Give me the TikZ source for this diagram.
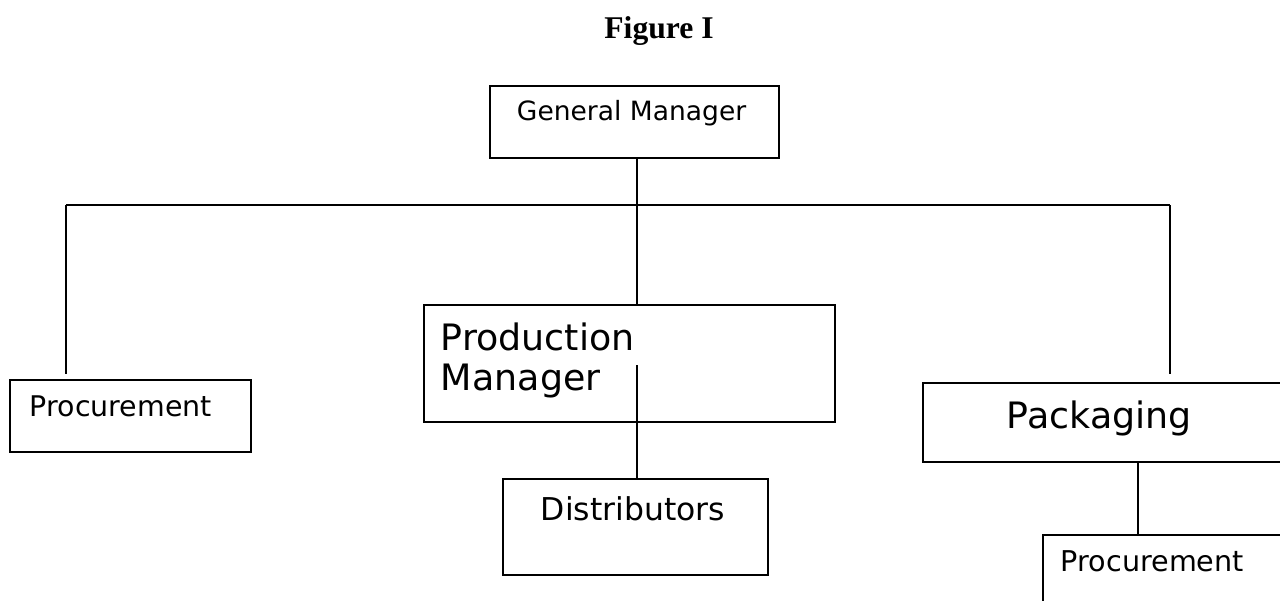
\documentclass[tikz,border=0pt]{standalone}
\usepackage{fontspec}
\setmainfont{DejaVu Sans}
\newfontfamily\titlefont{Liberation Serif}
\usepackage{tikz}
\usetikzlibrary{positioning}

\begin{document}
\begin{tikzpicture}[x=0.02cm, y=-0.02cm, line width=1.1pt,
  box/.style={draw, line width=1.1pt, inner sep=0pt, anchor=north west},
  lbl/.style={inner sep=0pt, anchor=base west, align=left}]
\useasboundingbox (0,0) rectangle (1280,601);
\clip (0,0) rectangle (1280,601);
\node[anchor=base, font=\titlefont\bfseries\fontsize{18}{20}\selectfont] (title) at (659,39) {Figure I};
% boxes
\node[box, minimum width=5.78cm, minimum height=1.44cm] (gm) at (489,85) {};
\node[box, minimum width=4.82cm, minimum height=1.44cm] (procl) at (9,379) {};
\node[box, minimum width=8.22cm, minimum height=2.34cm] (prod) at (423,304) {};
\node[box, minimum width=5.30cm, minimum height=1.92cm] (dist) at (502,478) {};
\node[box, minimum width=7.46cm, minimum height=1.58cm] (pack) at (922,382) {};
\node[box, minimum width=5.16cm, minimum height=1.72cm] (procr) at (1042,534) {};
% texts
\node[lbl, font=\fontsize{15.1}{18}\selectfont] (gmtext) at (516,121) {General Manager};
\node[lbl, font=\fontsize{16.2}{19}\selectfont] (procltext) at (29,416) {Procurement};
\node[lbl, anchor=north west, font=\fontsize{20.7}{22.7}\selectfont] (prodtext) at (440,322) {Production\\Manager};
\node[lbl, font=\fontsize{17.9}{21}\selectfont] (disttext) at (540,520) {Distributors};
\node[lbl, font=\fontsize{20.7}{24}\selectfont] (packtext) at (1006,428) {Packaging};
\node[lbl, font=\fontsize{16.3}{19}\selectfont] (procrtext) at (1060,571) {Procurement};
% connectors
\coordinate (jl) at (66,205);
\coordinate (jm) at (637,205);
\coordinate (jr) at (1170,205);
\coordinate (procltop) at (66,374);
\coordinate (packtop) at (1170,374);
\coordinate (prodin) at (637,365);
\coordinate (packdown) at (1138,461);
\draw (gm.south -| jm) -- (jm);
\draw (jl) -- (jr);
\draw (jl) -- (procltop);
\draw (jr) -- (packtop);
\draw (jm) -- (jm |- prod.north);
\draw (prodin) -- (prodin |- dist.north);
\draw (packdown) -- (packdown |- procr.north);
\end{tikzpicture}
\end{document}
